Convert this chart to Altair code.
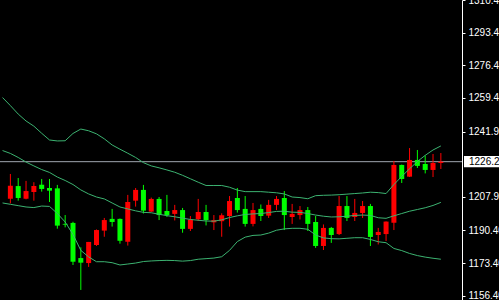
import altair as alt
import pandas as pd

# Candles (index 0..55), prices
opens = [1206.9, 1213.5, 1206.9, 1210.4, 1214.2, 1212.5, 1212.3, 1193.8, 1194.3, 1176.0,
         1173.4, 1182.8, 1190.3, 1196.4, 1196.4, 1184.5, 1205.9, 1211.5, 1200.2, 1206.8,
         1200.5, 1199.0, 1201.0, 1191.2, 1196.2, 1200.0, 1194.6, 1195.2, 1197.9, 1207.3,
         1201.6, 1193.8, 1201.6, 1198.1, 1203.7, 1207.3, 1197.4, 1198.4, 1201.0, 1194.8,
         1182.3, 1191.7, 1188.5, 1203.1, 1197.4, 1199.5, 1203.1, 1188.0, 1188.5, 1194.4,
         1224.5, 1218.4, 1227.1, 1225.0, 1221.9, 1225.5]
highs = [1219.8, 1217.7, 1216.2, 1215.5, 1217.2, 1217.2, 1214.1, 1198.4, 1194.9, 1181.6,
         1184.4, 1190.9, 1196.9, 1201.6, 1196.6, 1208.9, 1212.5, 1214.1, 1207.5, 1207.8,
         1208.9, 1203.7, 1202.1, 1197.9, 1206.8, 1203.7, 1198.4, 1199.3, 1208.3, 1212.5,
         1208.3, 1204.7, 1203.9, 1206.3, 1208.3, 1210.9, 1204.2, 1203.1, 1202.6, 1197.9,
         1193.5, 1192.2, 1208.3, 1208.3, 1206.8, 1205.7, 1204.2, 1191.7, 1195.1, 1226.6,
         1224.7, 1233.3, 1232.3, 1229.4, 1230.2, 1230.7]
lows = [1204.5, 1205.9, 1206.6, 1205.9, 1210.6, 1205.2, 1191.3, 1192.0, 1172.4, 1159.4,
        1171.4, 1182.3, 1187.1, 1192.4, 1183.5, 1182.5, 1202.8, 1199.2, 1200.0, 1195.8,
        1197.4, 1195.6, 1189.2, 1190.1, 1195.3, 1193.0, 1190.6, 1187.1, 1192.4, 1199.7,
        1192.4, 1192.5, 1195.3, 1196.9, 1201.0, 1190.6, 1193.8, 1196.1, 1190.1, 1181.3,
        1180.2, 1183.9, 1188.0, 1195.3, 1195.3, 1196.9, 1182.3, 1183.1, 1184.9, 1190.6,
        1215.1, 1218.2, 1222.9, 1220.1, 1218.2, 1222.4]
closes = [1213.7, 1207.3, 1210.9, 1213.5, 1212.0, 1211.1, 1192.9, 1193.4, 1174.1, 1173.6,
          1184.4, 1190.6, 1195.8, 1194.8, 1185.0, 1205.2, 1211.5, 1200.7, 1206.8, 1198.4,
          1198.4, 1201.0, 1191.2, 1196.0, 1200.0, 1195.8, 1195.8, 1198.3, 1205.7, 1201.0,
          1193.8, 1201.0, 1197.9, 1203.7, 1206.8, 1198.4, 1199.0, 1201.0, 1193.8, 1182.3,
          1191.7, 1188.0, 1203.1, 1196.9, 1199.5, 1203.1, 1187.0, 1189.6, 1195.0, 1224.5,
          1217.2, 1227.1, 1224.0, 1221.9, 1225.5, 1226.2]

# Bollinger bands (index -1..55)
upper = [1259.6, 1255.4, 1251.0, 1247.4, 1244.7, 1241.0, 1237.5, 1237.0, 1237.1, 1240.9,
         1243.2, 1242.3, 1240.7, 1238.1, 1234.9, 1232.7, 1230.6, 1228.4, 1225.7, 1224.0,
         1223.0, 1221.9, 1220.7, 1219.1, 1217.3, 1215.5, 1213.8, 1213.8, 1213.8, 1212.9,
         1211.4, 1210.6, 1210.6, 1210.6, 1210.3, 1210.0, 1209.4, 1207.8, 1207.5, 1206.9,
         1208.5, 1208.7, 1208.8, 1209.0, 1209.3, 1209.6, 1209.9, 1210.3, 1210.1, 1209.6,
         1214.3, 1218.5, 1222.5, 1226.3, 1229.5, 1232.3, 1234.4]
middle = [1232.0, 1230.5, 1228.4, 1226.0, 1224.0, 1222.1, 1220.6, 1218.2, 1216.4, 1214.3,
          1211.5, 1209.4, 1207.8, 1206.8, 1204.7, 1202.6, 1201.6, 1200.6, 1199.8, 1199.6,
          1198.8, 1198.1, 1197.5, 1196.8, 1196.1, 1195.7, 1195.3, 1195.2, 1195.9, 1197.1,
          1198.0, 1198.7, 1199.0, 1199.2, 1199.7, 1200.3, 1200.4, 1199.9, 1199.8, 1199.2,
          1198.4, 1197.8, 1197.4, 1197.5, 1197.8, 1198.2, 1198.4, 1198.2, 1197.0, 1196.7,
          1198.0, 1199.2, 1200.4, 1201.3, 1202.2, 1203.4, 1205.0]
lower = [1204.7, 1204.0, 1203.3, 1202.6, 1202.3, 1203.1, 1202.9, 1199.2, 1194.8, 1188.3,
         1180.0, 1176.6, 1174.1, 1174.1, 1173.6, 1172.4, 1172.9, 1173.4, 1174.2, 1174.5,
         1174.7, 1174.8, 1174.7, 1174.4, 1174.7, 1175.4, 1175.7, 1176.0, 1176.7, 1180.0,
         1184.6, 1186.9, 1187.8, 1188.0, 1189.0, 1190.5, 1191.2, 1191.5, 1191.5, 1191.0,
         1188.0, 1186.5, 1186.1, 1186.0, 1186.3, 1186.6, 1186.6, 1185.7, 1184.5, 1184.0,
         1181.0, 1179.9, 1178.4, 1177.3, 1176.5, 1175.9, 1175.4]

price_ticks = [1156.4, 1173.4, 1190.4, 1207.9, 1241.9, 1259.4, 1276.4, 1293.4, 1310.4]
last_price = 1226.2

n = len(opens)
candles = pd.DataFrame({
    "i": list(range(n)),
    "open": opens, "high": highs, "low": lows, "close": closes,
})
candles["dir"] = ["up" if c >= o else "down" for o, c in zip(opens, closes)]

band_idx = list(range(-1, n))
bands = pd.DataFrame({
    "i": band_idx * 3,
    "v": upper + middle + lower,
    "band": ["upper"] * len(band_idx) + ["middle"] * len(band_idx) + ["lower"] * len(band_idx),
})
last_df = pd.DataFrame({"v": [last_price]})

FONT = "Liberation Sans"
xs = alt.Scale(domain=[-0.6875, 57.0625], nice=False, zero=False)
ys = alt.Scale(domain=[1154.16, 1310.41], nice=False, zero=False)
y_axis = alt.Axis(orient="right", values=price_ticks, labelExpr="format(datum.value, '.2f')",
                  grid=False, title=None, domainColor="#ffffff", tickColor="#ffffff",
                  tickSize=3, labelColor="#ffffff", labelFont=FONT, labelFontSize=10,
                  labelPadding=3, labelOverlap=False, labelBound=False, labelFlush=False)
X = alt.X("i:Q", scale=xs, axis=None)
colors = alt.Color("dir:N", scale=alt.Scale(domain=["up", "down"], range=["#ff0000", "#00ff00"]), legend=None)

price_line = alt.Chart(last_df).mark_rule(color="#a0a6b0", strokeWidth=1).encode(
    y=alt.Y("v:Q", scale=ys, axis=y_axis)
)

wicks = alt.Chart(candles).mark_rule(strokeWidth=1).encode(
    x=X,
    y=alt.Y("low:Q", scale=ys, axis=y_axis),
    y2="high:Q",
    color=colors,
)
bodies = alt.Chart(candles).mark_bar(size=5, minBandSize=1).encode(
    x=X,
    y=alt.Y("open:Q", scale=ys, axis=y_axis),
    y2="close:Q",
    color=colors,
)
band_lines = alt.Chart(bands).mark_line(color="#3cb371", strokeWidth=1, clip=True).encode(
    x=X,
    y=alt.Y("v:Q", scale=ys, axis=y_axis),
    detail="band:N",
)

label_box = alt.Chart(last_df).transform_calculate(
    lo="datum.v - 2.9", hi="datum.v + 2.9"
).mark_rect(color="#ffffff").encode(
    x=alt.value(464), x2=alt.value(520),
    y=alt.Y("lo:Q", scale=ys, axis=y_axis), y2="hi:Q",
)
label_text = alt.Chart(last_df).mark_text(
    align="left", baseline="middle", color="#000000", font=FONT, fontSize=10
).encode(
    x=alt.value(469),
    y=alt.Y("v:Q", scale=ys, axis=y_axis),
    text=alt.Text("v:Q", format=".2f"),
)

chart = alt.layer(price_line, wicks, bodies, band_lines, label_box, label_text).properties(
    width=462, height=300,
    autosize=alt.AutoSizeParams(type="none"),
    padding={"left": 0, "top": 0, "right": 37, "bottom": 0},
    background="#000000",
).configure_view(stroke=None, fill="#000000")

chart.save("out.html", embed_options={"renderer": "svg", "actions": False})
